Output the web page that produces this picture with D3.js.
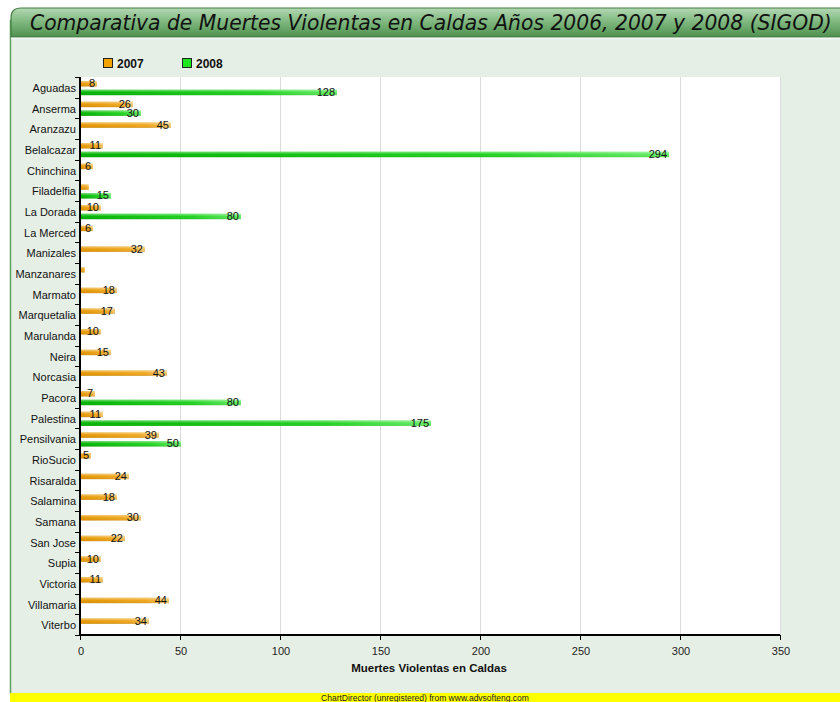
<!DOCTYPE html>
<html><head><meta charset="utf-8">
<script src="https://cdn.jsdelivr.net/npm/d3@7/dist/d3.min.js"></script>
<style>body{margin:0;background:#fff;} svg{display:block;}</style>
</head><body>
<svg id="c" width="840" height="702"></svg>
<script>
const categories = ["Aguadas","Anserma","Aranzazu","Belalcazar","Chinchina","Filadelfia","La Dorada","La Merced","Manizales","Manzanares","Marmato","Marquetalia","Marulanda","Neira","Norcasia","Pacora","Palestina","Pensilvania","RioSucio","Risaralda","Salamina","Samana","San Jose","Supia","Victoria","Villamaria","Viterbo"];
const values2007 = [8,26,45,11,6,4,10,6,32,2,18,17,10,15,43,7,11,39,5,24,18,30,22,10,11,44,34];
const values2008 = [128,30,null,294,null,15,80,null,null,null,null,null,null,null,null,80,175,50,null,null,null,null,null,null,null,null,null];
const seriesNames = ["2007","2008"];
const xTicks = [0,50,100,150,200,250,300,350];
const titleText = "Comparativa de Muertes Violentas en Caldas Años 2006, 2007 y 2008 (SIGOD)";
const xAxisTitle = "Muertes Violentas en Caldas";
const footerText = "ChartDirector (unregistered) from www.advsofteng.com";

const svg = d3.select("#c");
const defs = svg.append("defs");
function grad(id, stops, x2, y2){
  const g = defs.append("linearGradient").attr("id", id).attr("x1",0).attr("y1",0).attr("x2",x2).attr("y2",y2);
  stops.forEach(s=>g.append("stop").attr("offset",s[0]).attr("stop-color",s[1]));
}
grad("gTitle", [[0,"#b4d8b4"],[0.35,"#8cc08c"],[0.7,"#6aa86a"],[1,"#4f8f4f"]], 0, 1);
grad("gOrange", [[0,"#e49600"],[0.75,"#f0a820"],[1,"#f5c870"]], 1, 0);
grad("gGreen", [[0,"#00b400"],[0.7,"#22d422"],[1,"#66ee66"]], 1, 0);
grad("gHi", [[0,"rgba(255,255,255,0.45)"],[0.5,"rgba(255,255,255,0)"],[1,"rgba(0,0,0,0.12)"]], 0, 1);

// background
svg.append("rect").attr("x",10).attr("y",20).attr("width",840).attr("height",680).attr("fill","#e6efe6");
svg.append("line").attr("x1",10.5).attr("x2",10.5).attr("y1",20).attr("y2",694).attr("stroke","#5f9f5f").attr("stroke-width",1.5);

// title bar
const r = 10, tx = 11, ty = 8, tw = 840, th = 29;
svg.append("path")
  .attr("d", `M${tx},${ty+th} L${tx},${ty+r} Q${tx},${ty} ${tx+r},${ty} L${tx+tw},${ty} L${tx+tw},${ty+th} Z`)
  .attr("fill","url(#gTitle)").attr("stroke","#3f7f3f").attr("stroke-width",1.2);
svg.append("line").attr("x1",tx).attr("x2",840).attr("y1",ty+th+1.5).attr("y2",ty+th+1.5).attr("stroke","#f4f8f4").attr("stroke-width",1.5);
const tt = svg.append("text").attr("x",30).attr("y",30).attr("font-family","DejaVu Sans, Verdana, sans-serif")
  .attr("font-style","italic").attr("font-size",17).attr("fill","#111").text(titleText);
const tlen = tt.node().getComputedTextLength();
const target = 802;
tt.attr("font-size", 17*target/tlen);

// plot area
const x0=80, x1=780, y0=77, y1=635;
const x = d3.scaleLinear().domain([0,350]).range([x0,x1]);
const y = d3.scaleBand().domain(categories).range([y0,y1]).paddingInner(0).paddingOuter(0);
svg.append("rect").attr("x",x0).attr("y",y0).attr("width",x1-x0).attr("height",y1-y0).attr("fill","#fff");
svg.append("g").selectAll("line").data(xTicks).join("line")
  .attr("x1",d=>x(d)+0.5).attr("x2",d=>x(d)+0.5).attr("y1",y0).attr("y2",y1)
  .attr("stroke","#dadada").attr("stroke-width",1);

// bars
const bw = y.bandwidth();
const barH = 5.5, gap = 3.2, off = 4;
const series = [values2007, values2008];
const fills = ["url(#gOrange)","url(#gGreen)"];
const bars = svg.append("g");
series.forEach((vals, si) => {
  const data = categories.map((c,i)=>({c, v: vals[i]})).filter(d=>d.v!=null);
  const yy = d => y(d.c) + off + si*(barH+gap);
  bars.append("g").selectAll("rect").data(data).join("rect")
    .attr("x",x(0)).attr("y",yy).attr("width",d=>x(d.v)-x(0)+1).attr("height",barH)
    .attr("fill",fills[si]);
  bars.append("g").selectAll("rect").data(data).join("rect")
    .attr("x",x(0)).attr("y",yy).attr("width",d=>x(d.v)-x(0)+1).attr("height",barH)
    .attr("fill","url(#gHi)");
  bars.append("g").selectAll("text").data(data.filter(d=>d.v>=5)).join("text")
    .attr("x",d=>x(d.v)-1).attr("y",d=>yy(d)+barH/2+3.5)
    .attr("text-anchor","end").attr("font-family","Liberation Sans, Arial, sans-serif").attr("font-size",11)
    .attr("fill","#111").text(d=>d.v);
});

// axes
const yAxis = svg.append("g").attr("transform",`translate(${x0},0)`);
yAxis.append("line").attr("x1",0).attr("x2",0).attr("y1",y0).attr("y2",y1+1).attr("stroke","#000").attr("stroke-width",2);
yAxis.selectAll("line.t").data(categories.map(c=>y(c)).concat([y1])).join("line").attr("class","t")
  .attr("x1",-5).attr("x2",0).attr("y1",d=>Math.round(d)+0.5).attr("y2",d=>Math.round(d)+0.5).attr("stroke","#000");
yAxis.selectAll("text").data(categories).join("text")
  .attr("x",-4).attr("y",d=>y(d)+bw/2+4.5).attr("text-anchor","end")
  .attr("font-family","Liberation Sans, Arial, sans-serif").attr("font-size",11).attr("fill","#111").text(d=>d);

const xAxis = svg.append("g");
xAxis.append("line").attr("x1",x0-1).attr("x2",x1).attr("y1",y1).attr("y2",y1).attr("stroke","#000").attr("stroke-width",2);
xAxis.selectAll("line.t").data(xTicks).join("line").attr("class","t")
  .attr("x1",d=>x(d)+0.5).attr("x2",d=>x(d)+0.5).attr("y1",y1).attr("y2",y1+5).attr("stroke","#000");
xAxis.selectAll("text").data(xTicks).join("text")
  .attr("x",d=>x(d)+1).attr("y",655).attr("text-anchor","middle")
  .attr("font-family","Liberation Sans, Arial, sans-serif").attr("font-size",11).attr("fill","#222").text(d=>d);
svg.append("text").attr("x",(x0+x1)/2-1).attr("y",672).attr("text-anchor","middle")
  .attr("font-family","Liberation Sans, Arial, sans-serif").attr("font-weight","bold").attr("font-size",11.5)
  .attr("fill","#111").text(xAxisTitle);

// legend
const legCols = ["#f5a300","#1ee61e"];
const leg = svg.append("g");
seriesNames.forEach((n,i)=>{
  const lx = 103 + i*79;
  leg.append("rect").attr("x",lx+0.5).attr("y",58.5).attr("width",9).attr("height",9).attr("fill",legCols[i]).attr("stroke","#222");
  leg.append("text").attr("x",lx+14).attr("y",68).attr("font-family","Liberation Sans, Arial, sans-serif")
    .attr("font-weight","bold").attr("font-size",12).attr("fill","#111").text(n);
});

// footer
svg.append("rect").attr("x",10).attr("y",693).attr("width",830).attr("height",9).attr("fill","#ffff00");
svg.append("text").attr("x",425).attr("y",700.5).attr("text-anchor","middle")
  .attr("font-family","Liberation Sans Narrow, Liberation Sans, Arial, sans-serif").attr("font-size",8.5).attr("fill","#222").text(footerText);
</script>
</body></html>
